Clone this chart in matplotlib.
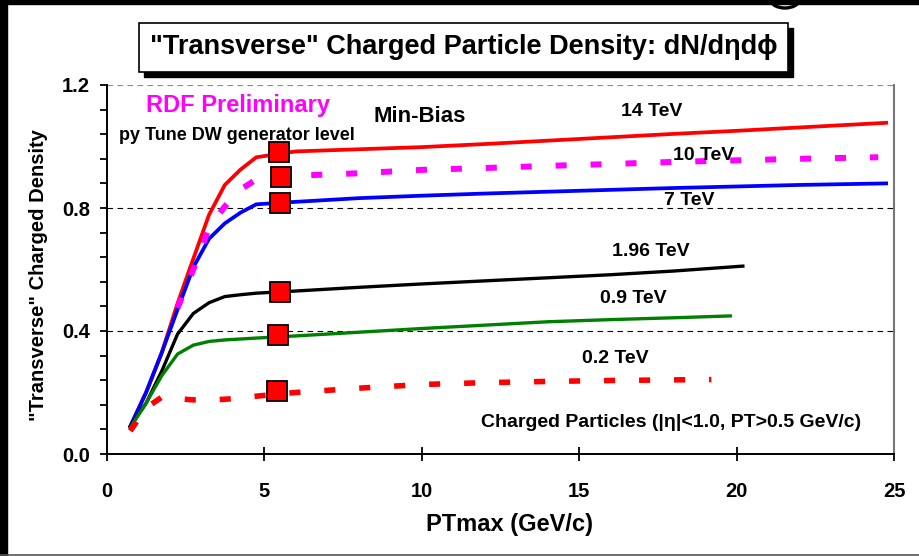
import matplotlib
matplotlib.use("Agg")
import matplotlib.pyplot as plt
from matplotlib.patches import Rectangle, Arc
from matplotlib.lines import Line2D

plt.rcParams['font.family'] = ['Liberation Sans', 'DejaVu Sans']
plt.rcParams['font.weight'] = 'bold'

# PTmax grid (GeV/c) used by the generator-level curves
pt = [0.75, 1.25, 1.75, 2.25, 2.75, 3.25, 3.75, 4.25, 4.75,
      6, 8, 10, 12, 14, 16, 18, 20, 22, 24.75]

# "Transverse" density vs PTmax, one list per energy
tev14 = [0.09, 0.20, 0.33, 0.49, 0.635, 0.778, 0.875, 0.925, 0.965,
         0.984, 0.991, 0.998, 1.008, 1.019, 1.030, 1.041, 1.051, 1.062, 1.077]
tev10 = [0.09, 0.20, 0.33, 0.475, 0.60, 0.736, 0.805, 0.86, 0.893,
         0.905, 0.913, 0.924, 0.930, 0.937, 0.943, 0.950, 0.955, 0.960, 0.965]
tev7 = [0.09, 0.20, 0.33, 0.47, 0.607, 0.70, 0.75, 0.785, 0.812,
        0.820, 0.832, 0.840, 0.847, 0.853, 0.859, 0.865, 0.870, 0.875, 0.880]

pt_196 = [0.75, 1.25, 1.75, 2.25, 2.75, 3.25, 3.75, 4.25, 4.75,
          6, 8, 10, 12, 14, 16, 18, 20.2]
tev196 = [0.09, 0.165, 0.27, 0.39, 0.457, 0.492, 0.512, 0.518, 0.523,
          0.530, 0.542, 0.553, 0.563, 0.573, 0.583, 0.595, 0.611]

pt_09 = [0.75, 1.25, 1.75, 2.25, 2.75, 3.25, 3.75, 4.25, 4.75,
         6, 8, 10, 12, 14, 16, 18, 19.8]
tev09 = [0.086, 0.165, 0.255, 0.325, 0.354, 0.366, 0.371, 0.374, 0.377,
         0.384, 0.396, 0.408, 0.419, 0.430, 0.437, 0.443, 0.449]

pt_02 = [0.75, 1.25, 1.75, 2.25, 2.75, 3.25, 3.75, 4.25, 4.75,
         6, 8, 10, 12, 14, 16, 18, 19.2]
tev02 = [0.075, 0.15, 0.185, 0.18, 0.176, 0.176, 0.178, 0.182, 0.188,
         0.200, 0.214, 0.226, 0.232, 0.236, 0.239, 0.241, 0.242]

# measured points (red squares)
data_x = [5.47, 5.52, 5.5, 5.5, 5.43, 5.4]
data_y = [0.982, 0.90, 0.816, 0.527, 0.387, 0.205]

energy_labels = ["14 TeV", "10 TeV", "7 TeV", "1.96 TeV", "0.9 TeV", "0.2 TeV"]

fig = plt.figure(figsize=(9.19, 5.56), dpi=100)
ax = fig.add_axes([106.7 / 919, 1 - 454 / 556, 787.3 / 919, 369 / 556])

# curves
ax.plot(pt, tev14, color='#FF0000', lw=2.7)
ax.plot(pt, tev7, color='#0000FF', lw=2.7)
ax.plot(pt_196, tev196, color='black', lw=2.4)
ax.plot(pt_09, tev09, color='#008000', lw=2.4)
ax.plot(pt[3:-1] + [24.5], tev10[3:], color='#FF00FF', lw=4.3,
        dashes=(1.85, 4.0), dash_capstyle='butt')
ax.plot(pt_02, tev02, color='#FF0000', lw=4.0,
        dashes=(2.0, 4.3), dash_capstyle='butt')
ax.plot(data_x, data_y, ls='none', marker='s', ms=14.5, mfc='#FF0000',
        mec='black', mew=1.3, zorder=5)

# energy labels
lab_pos = [(17.32, 1.115), (18.94, 0.972), (18.5, 0.826),
           (17.28, 0.657), (16.71, 0.507), (16.14, 0.312)]
for (lx, ly), t in zip(lab_pos, energy_labels):
    ax.text(lx, ly, t, fontsize=14, fontweight='bold', ha='center', va='center')

ax.text(4.17, 1.132, "RDF Preliminary", color='#FF00FF', fontsize=17,
        fontweight='bold', ha='center', va='center')
ax.text(4.14, 1.037, "py Tune DW generator level", fontsize=13,
        fontweight='bold', ha='center', va='center')
ax.text(9.95, 1.099, "Min-Bias", fontsize=16, fontweight='bold',
        ha='center', va='center')
ax.text(17.92, 0.101, "Charged Particles (|η|<1.0, PT>0.5 GeV/c)", fontsize=14,
        fontweight='bold', ha='center', va='center')

# axes
ax.set_xlim(0, 25)
ax.set_ylim(0, 1.2)
ax.set_xticks([0, 5, 10, 15, 20, 25])
ax.set_yticks([0.0, 0.4, 0.8, 1.2])
ax.set_yticklabels(["0.0", "0.4", "0.8", "1.2"])
ax.set_yticks([0.08 * i for i in range(16)], minor=True)
ax.tick_params(axis='x', direction='inout', length=10, width=1.3, pad=15,
               labelsize=14.5)
ax.tick_params(axis='y', which='both', direction='out', length=5, width=1.3,
               pad=7, labelsize=14.5)
for lbl in ax.get_xticklabels() + ax.get_yticklabels():
    lbl.set_fontweight('bold')

ax.yaxis.grid(True, which='major', color='black', ls=(0, (5, 4)), lw=0.8)
ax.get_ygridlines()[-1].set_color('#888888')
ax.spines['top'].set_visible(False)
ax.spines['right'].set_color('#777777')
ax.spines['right'].set_linewidth(1.5)
ax.spines['left'].set_linewidth(1.4)
ax.spines['bottom'].set_linewidth(1.4)

ax.set_xlabel("PTmax (GeV/c)", fontsize=17, fontweight='bold')
ax.set_ylabel("\"Transverse\" Charged Density", fontsize=14.5, fontweight='bold')
ax.xaxis.set_label_coords(0.512, -0.16)
ax.yaxis.set_label_coords(-0.075, 0.485)

# title box with drop shadow
bx, by, bw, bh = 139 / 919, 1 - 72 / 556, 649 / 919, 49 / 556
fig.patches.append(Rectangle((bx + 5 / 919, by - 5 / 556), bw, bh,
                             transform=fig.transFigure, color='black', zorder=1))
fig.patches.append(Rectangle((bx, by), bw, bh, transform=fig.transFigure,
                             facecolor='white', edgecolor='black', lw=1.2,
                             zorder=2))
fig.text(bx + bw / 2, by + bh / 2, "\"Transverse\" Charged Particle Density: dN/dηdϕ",
         fontsize=19.5, fontweight='bold', ha='center', va='center', zorder=3)

# slide frame and the bottom of the slide heading's "g"
fig.patches.append(Rectangle((0, 1 - 4 / 556), 1, 4 / 556,
                             transform=fig.transFigure, color='black'))
fig.patches.append(Rectangle((0, 0), 7 / 919, 1,
                             transform=fig.transFigure, color='black'))
fig.lines.append(Line2D([0, 1], [1 / 556, 1 / 556], transform=fig.transFigure,
                        color='#555555', lw=1.2))
fig.patches.append(Arc((785 / 919, 1.0), 28 / 919, 16 / 556, theta1=180,
                       theta2=360, transform=fig.transFigure, color='black',
                       lw=2.4))

fig.savefig("out.png", dpi=100)
